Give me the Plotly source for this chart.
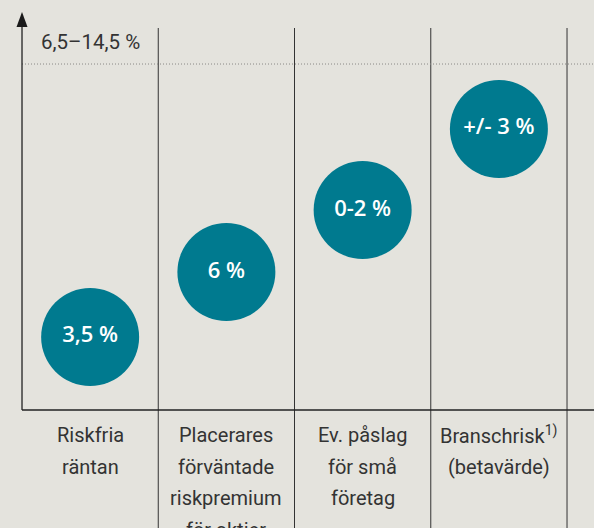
import plotly.graph_objects as go

# ---- data ----
categories = ["Riskfria", "Placerares", "Ev. påslag", "Branschrisk"]
label_lines = [
    ["Riskfria", "räntan"],
    ["Placerares", "förväntade", "riskpremium", "för aktier"],
    ["Ev. påslag", "för små", "företag"],
    ["Branschrisk<sup>1)</sup>", "(betavärde)"],
]
circle_text = ["3,5 %", "6 %", "0-2 %", "+/- 3 %"]
levels = [3.06, 5.78, 8.38, 11.78]   # vertical position of each circle on the hidden scale
top_level = 14.5                      # dotted line
top_label = "6,5–14,5 %"

# ---- style ----
BG = "#E4E3DD"
TEAL = "#007A8F"
INK = "#333333"
FONT = "Roboto"

W, H = 594, 528
px_per_unit = 23.86
axis_px = 410
x_left, x_right = -0.6615, 3.698
y_top = axis_px / px_per_unit
y_bot = -(H - axis_px) / px_per_unit

def py(p):  # pixel row -> data y
    return (axis_px - p) / px_per_unit

xs = list(range(len(categories)))

fig = go.Figure()
fig.add_trace(go.Scatter(
    x=xs, y=levels, mode="markers+text",
    marker=dict(size=98, color=TEAL, line=dict(width=0)),
    text=circle_text, textposition="middle center",
    textfont=dict(family="Open Sans", size=22, color="white", weight=600),
    hoverinfo="skip", showlegend=False, cliponaxis=False,
))

shapes = []
# column separators
for i in range(len(categories)):
    shapes.append(dict(type="line", xref="x", yref="y", x0=i + 0.5, x1=i + 0.5,
                       y0=py(28), y1=y_bot, line=dict(color=INK, width=1)))
# dotted top line
shapes.append(dict(type="line", xref="x", yref="y", x0=-0.5, x1=x_right,
                   y0=top_level, y1=top_level,
                   line=dict(color="#8a8a86", width=1, dash="1px,2px")))
# bottom axis
shapes.append(dict(type="line", xref="x", yref="y", x0=-0.5, x1=x_right,
                   y0=0, y1=0, line=dict(color="#222222", width=1.3)))
# y axis
shapes.append(dict(type="line", xref="x", yref="y", x0=-0.5, x1=-0.5,
                   y0=0, y1=py(26), line=dict(color="#222222", width=1.3)))
# arrow head
hw = 5.5 / 136.25
shapes.append(dict(type="path", xref="x", yref="y",
                   path=f"M {-0.5 - hw},{py(27)} L {-0.5},{py(12)} L {-0.5 + hw},{py(27)} Z",
                   fillcolor="#1a1a1a", line=dict(width=0)))

annotations = [dict(x=0.0, y=py(42), xref="x", yref="y", text=top_label,
                    showarrow=False, xanchor="center", yanchor="middle",
                    font=dict(family=FONT, size=20.5, color=INK))]
pitch = 31.7
for i, lines in enumerate(label_lines):
    for j, t in enumerate(lines):
        annotations.append(dict(x=i, y=(H - (435 + j * pitch)) / H, xref="x", yref="paper",
                                text=t, showarrow=False, xanchor="center", yanchor="middle",
                                font=dict(family=FONT, size=20, color=INK)))

fig.update_layout(
    width=W, height=H, margin=dict(l=0, r=0, t=0, b=0),
    paper_bgcolor=BG, plot_bgcolor=BG,
    xaxis=dict(range=[x_left, x_right], visible=False, fixedrange=True),
    yaxis=dict(range=[y_bot, y_top], visible=False, fixedrange=True),
    shapes=shapes, annotations=annotations, showlegend=False,
)

fig.write_html("out.html")
